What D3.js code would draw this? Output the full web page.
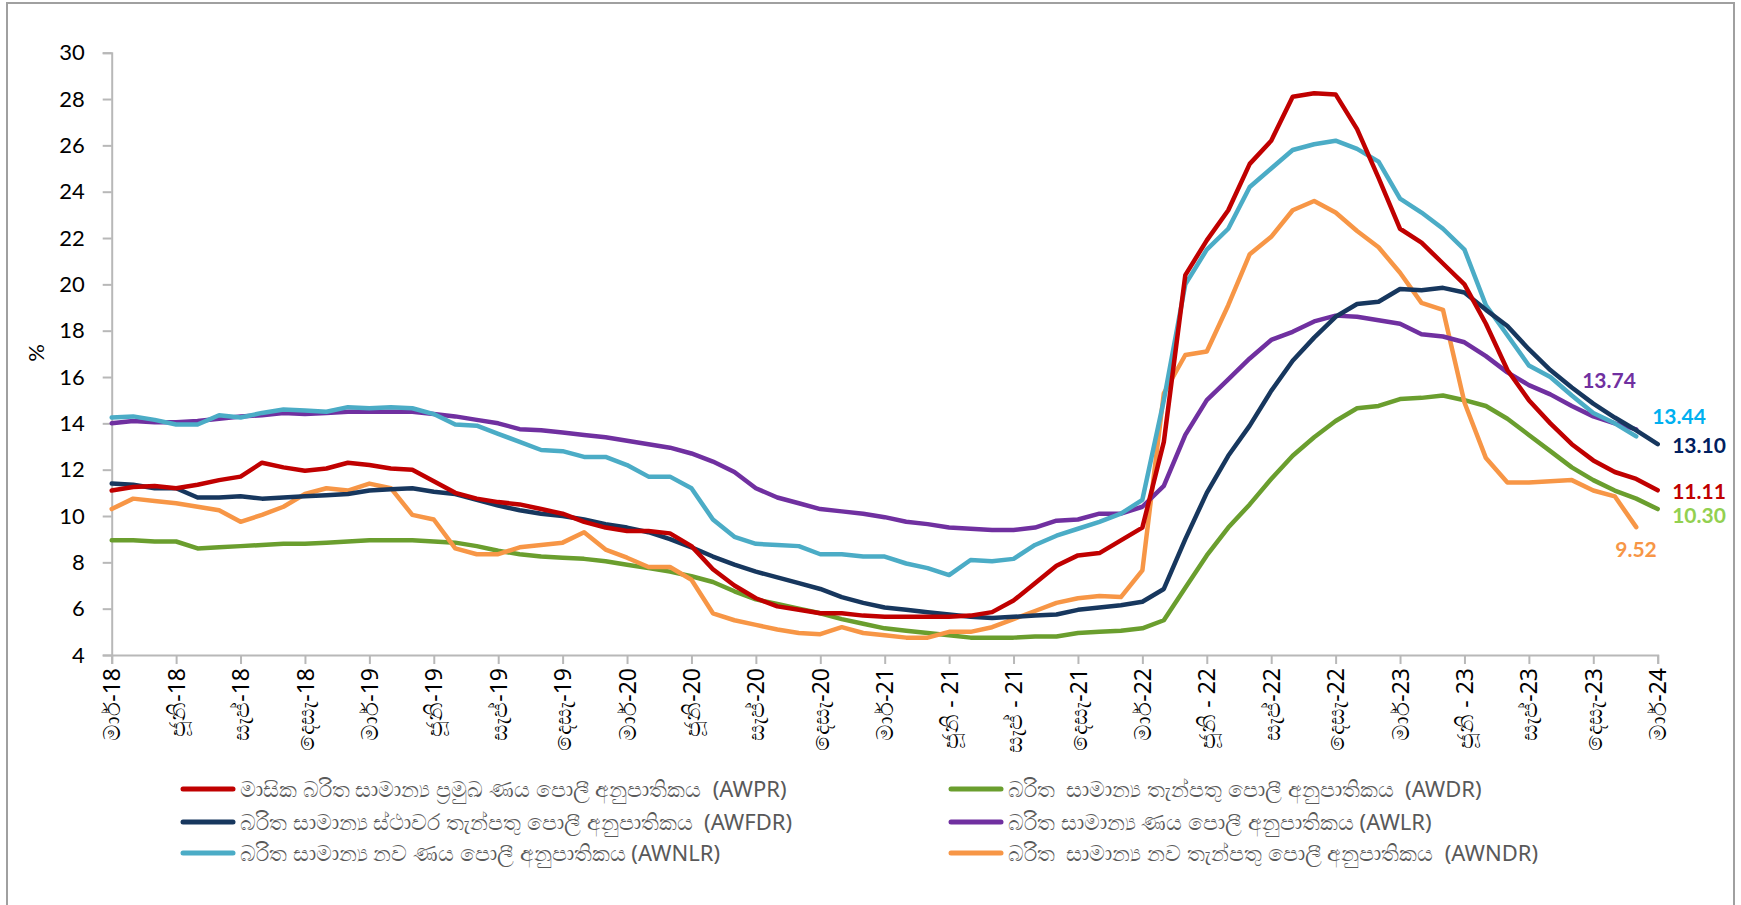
<!DOCTYPE html>
<html><head><meta charset="utf-8">
<script src="https://cdn.jsdelivr.net/npm/d3@7"></script>
<style>html,body{margin:0;padding:0;background:#fff;}svg{display:block;}text{white-space:pre;}</style>
</head><body>
<svg id="chart" width="1741" height="905"></svg>
<script>
const months = ["මාර්-18","","","ජූනි-18","","","සැප්-18","","","දෙසැ-18","","",
"මාර්-19","","","ජූනි-19","","","සැප්-19","","","දෙසැ-19","","",
"මාර්-20","","","ජූනි-20","","","සැප්-20","","","දෙසැ-20","","",
"මාර්-21","","","ජූනි - 21","","","සැප් - 21","","","දෙසැ-21","","",
"මාර්-22","","","ජූනි - 22","","","සැප්-22","","","දෙසැ-22","","",
"මාර්-23","","","ජූනි - 23","","","සැප්-23","","","දෙසැ-23","","",
"මාර්-24"];
const yTicks = [4,6,8,10,12,14,16,18,20,22,24,26,28,30];

const awpr = [11.1,11.25,11.3,11.2,11.35,11.55,11.7,12.3,12.1,11.95,12.05,12.3,
12.2,12.05,12.0,11.5,11.0,10.75,10.6,10.5,10.3,10.1,9.75,9.5,
9.35,9.35,9.25,8.7,7.7,7.0,6.45,6.1,5.95,5.8,5.8,5.7,
5.65,5.65,5.65,5.65,5.7,5.85,6.35,7.1,7.85,8.3,8.4,8.95,
9.5,13.2,20.4,21.9,23.2,25.2,26.2,28.1,28.25,28.2,26.7,24.6,
22.4,21.8,20.9,20.0,18.3,16.3,15.0,14.0,13.1,12.4,11.9,11.6,
11.11];
const awdr = [8.95,8.95,8.9,8.9,8.6,8.65,8.7,8.75,8.8,8.8,8.85,8.9,
8.95,8.95,8.95,8.9,8.85,8.7,8.5,8.35,8.25,8.2,8.15,8.05,
7.9,7.75,7.6,7.4,7.15,6.75,6.4,6.2,6.0,5.8,5.55,5.35,
5.15,5.05,4.95,4.85,4.75,4.75,4.75,4.8,4.8,4.95,5.0,5.05,
5.15,5.5,6.9,8.3,9.5,10.5,11.6,12.6,13.4,14.1,14.65,14.75,
15.05,15.1,15.2,15.0,14.75,14.2,13.5,12.8,12.1,11.55,11.1,10.75,
10.30];
const awfdr = [11.4,11.35,11.2,11.2,10.8,10.8,10.85,10.75,10.8,10.85,10.9,10.95,
11.1,11.15,11.2,11.05,10.95,10.7,10.45,10.25,10.1,10.0,9.85,9.65,
9.5,9.3,9.0,8.65,8.25,7.9,7.6,7.35,7.1,6.85,6.5,6.25,
6.05,5.95,5.85,5.75,5.65,5.6,5.65,5.7,5.75,5.95,6.05,6.15,
6.3,6.85,9.0,11.0,12.6,13.9,15.4,16.7,17.7,18.6,19.15,19.25,
19.8,19.75,19.85,19.65,18.9,18.2,17.2,16.3,15.55,14.85,14.25,13.7,
13.10];
const awlr = [14.0,14.1,14.05,14.05,14.1,14.2,14.3,14.35,14.45,14.4,14.45,14.5,
14.5,14.5,14.5,14.4,14.3,14.15,14.0,13.75,13.7,13.6,13.5,13.4,
13.25,13.1,12.95,12.7,12.35,11.9,11.2,10.8,10.55,10.3,10.2,10.1,
9.95,9.75,9.65,9.5,9.45,9.4,9.4,9.5,9.8,9.85,10.1,10.1,
10.4,11.3,13.5,15.0,15.9,16.8,17.6,17.95,18.4,18.65,18.6,18.45,
18.3,17.85,17.75,17.5,16.9,16.2,15.65,15.25,14.75,14.3,14.0,13.74,
null];
const awnlr = [14.25,14.3,14.15,13.95,13.95,14.35,14.25,14.45,14.6,14.55,14.5,14.7,
14.65,14.7,14.65,14.4,13.95,13.9,13.55,13.2,12.85,12.8,12.55,12.55,
12.2,11.7,11.7,11.2,9.85,9.1,8.8,8.75,8.7,8.35,8.35,8.25,
8.25,7.95,7.75,7.45,8.1,8.05,8.15,8.75,9.15,9.45,9.75,10.1,
10.7,15.0,20.0,21.5,22.4,24.2,25.0,25.8,26.05,26.2,25.85,25.3,
23.7,23.1,22.4,21.5,19.1,17.8,16.5,16.0,15.2,14.45,14.0,13.44,
null];
const awndr = [10.3,10.75,10.65,10.55,10.4,10.25,9.75,10.05,10.4,10.95,11.2,11.1,
11.4,11.2,10.05,9.85,8.6,8.35,8.35,8.65,8.75,8.85,9.3,8.55,
8.2,7.8,7.8,7.25,5.8,5.5,5.3,5.1,4.95,4.9,5.2,4.95,
4.85,4.75,4.75,5.0,5.0,5.2,5.55,5.9,6.25,6.45,6.55,6.5,
7.65,15.3,16.95,17.1,19.1,21.3,22.05,23.2,23.6,23.1,22.3,21.6,
20.5,19.2,18.9,14.9,12.5,11.45,11.45,11.5,11.55,11.1,10.85,9.52,
null];

const seriesNames = ["මාසික බරිත සාමාන්‍ය ප්‍රමුඛ ණය පොලී අනුපාතිකය  (AWPR)",
"බරිත  සාමාන්‍ය තැන්පතු පොලී අනුපාතිකය  (AWDR)",
"බරිත සාමාන්‍ය ස්ථාවර තැන්පතු පොලී අනුපාතිකය  (AWFDR)",
"බරිත සාමාන්‍ය ණය පොලී අනුපාතිකය (AWLR)",
"බරිත සාමාන්‍ය නව ණය පොලී අනුපාතිකය (AWNLR)",
"බරිත  සාමාන්‍ය නව තැන්පතු පොලී අනුපාතිකය  (AWNDR)"];
const lineColors = ["#c00000","#6a9e2e","#17375e","#7030a0","#4bacc6","#f79646"];
const labelColors = ["#c00000","#92d050","#002060","#7030a0","#00b0f0","#f79646"];
const endLabels = ["11.11","10.30","13.10","13.74","13.44","9.52"];
const allSeries = [awpr, awdr, awfdr, awlr, awnlr, awndr];

const svg = d3.select("#chart");
svg.append("rect").attr("x",7).attr("y",3).attr("width",1727).attr("height",920)
  .attr("fill","#fff").attr("stroke","#a0a0a0").attr("stroke-width",2);

const x = d3.scaleLinear().domain([0,72]).range([111.7,1657.7]);
const y = d3.scaleLinear().domain([4,30]).range([655,52.7]);

const axisColor = "#b8b8b8";
// y axis
const yAxis = svg.append("g").attr("transform","translate(111.7,0)")
  .call(d3.axisLeft(y).tickValues(yTicks).tickSize(9).tickPadding(18).tickFormat(d3.format("d")));
yAxis.select(".domain").attr("stroke",axisColor).attr("stroke-width",2);
yAxis.selectAll(".tick line").attr("stroke",axisColor).attr("stroke-width",2);
yAxis.selectAll("text").attr("font-family","Lato, 'Open Sans', sans-serif").attr("font-size",22).attr("fill","#000");

// x axis
const xAxis = svg.append("g").attr("transform","translate(0,655)")
  .call(d3.axisBottom(x).tickValues(d3.range(0,73,3)).tickSize(9).tickFormat(""));
xAxis.select(".domain").attr("stroke",axisColor).attr("stroke-width",2);
xAxis.selectAll(".tick line").attr("stroke",axisColor).attr("stroke-width",2);
xAxis.selectAll(".tick").append("text")
  .attr("transform","translate(0,13) rotate(-90)")
  .attr("text-anchor","end").attr("dy","0.35em")
  .attr("font-family","'Noto Sans', Lato, sans-serif").attr("font-size",23).attr("fill","#000")
  .text(d => months[d]);

svg.append("text").attr("transform","translate(36,353) rotate(-90)")
  .attr("text-anchor","middle").attr("dy","0.35em")
  .attr("font-family","Lato, sans-serif").attr("font-size",22).text("%");

const line = d3.line().defined(d => d != null).x((d,i) => x(i)).y(d => y(d));
// draw order: green, orange, purple, cyan, navy, red
const order = [1,5,3,4,2,0];
order.forEach(k => {
  svg.append("path").datum(allSeries[k]).attr("d",line)
    .attr("fill","none").attr("stroke",lineColors[k]).attr("stroke-width",4.5)
    .attr("stroke-linejoin","round").attr("stroke-linecap","round");
});

// end labels
const labelPos = [[1699,492],[1699,516],[1699,446],[1609,381],[1679,417],[1636,550]];
allSeries.forEach((s,k) => {
  svg.append("text").attr("x",labelPos[k][0]).attr("y",labelPos[k][1])
    .attr("text-anchor","middle").attr("dy","0.35em")
    .attr("font-family","Lato, sans-serif").attr("font-weight","bold").attr("font-size",21)
    .attr("fill",labelColors[k]).text(endLabels[k]);
});

// legend
const legPos = [[183,789],[951,789],[183,822],[951,822],[183,853],[951,853]];
seriesNames.forEach((n,k) => {
  const g = svg.append("g").attr("transform",`translate(${legPos[k][0]},${legPos[k][1]})`);
  g.append("line").attr("x1",0).attr("x2",50).attr("y1",0).attr("y2",0)
    .attr("stroke",lineColors[k]).attr("stroke-width",5).attr("stroke-linecap","round");
  g.append("text").attr("x",57).attr("dy","0.35em")
    .attr("font-family","'Noto Sans', 'Open Sans', sans-serif").attr("font-size",22).attr("fill","#595959")
    .text(n);
});
</script>
</body></html>
